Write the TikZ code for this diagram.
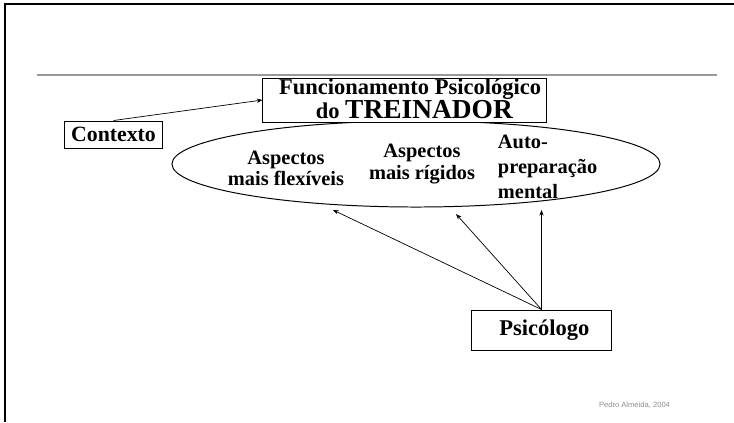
\documentclass[tikz,border=0pt]{standalone}
\usepackage{fontspec}
\setmainfont{Liberation Serif}
\newfontfamily\footfont{Liberation Sans}
\usetikzlibrary{arrows.meta, shapes.geometric}
\definecolor{rulegray}{HTML}{999999}
\definecolor{footgray}{HTML}{8C8C8C}

\begin{document}
\begin{tikzpicture}[
  x=0.025cm, y=-0.025cm,
  >={Stealth[length=4pt, width=3pt]},
  framebox/.style={draw, line width=0.7pt, inner sep=0pt, align=center},
  inner/.style={font=\fontsize{14.5}{15}\selectfont\bfseries, align=center},
  link/.style={->, line width=0.5pt},
]

\useasboundingbox (0,0) rectangle (734,422);

% Page frame and rule
\draw[line width=1pt] (5,422) -- (5,4) -- (734,4);
\draw[rulegray, line width=1.5pt] (37,75) -- (717,75);

% === Central ellipse ===
\node[ellipse, draw, line width=0.7pt, inner sep=0pt,
  minimum width=12.2cm, minimum height=2.15cm] (ell) at (416,164) {};

% === Boxes ===
\node[framebox, minimum width=7.075cm, minimum height=1.1cm, fill=white,
  text depth=2pt, font=\fontsize{16}{15.6}\selectfont\bfseries] (func) at (404.5,100)
  {\hspace{8pt}Funcionamento Psicológico\\
   \hspace{14pt}do {\fontsize{19.5}{15.6}\selectfont TREINADOR}};
\node[framebox, minimum width=2.425cm, minimum height=0.675cm,
  font=\fontsize{15.5}{17}\selectfont\bfseries] (ctx) at (113.5,134.5) {Contexto};
\node[framebox, minimum width=3.475cm, minimum height=1.0cm,
  font=\fontsize{16}{18}\selectfont\bfseries] (psi) at (541.5,330) {\hspace{4pt}Psicólogo};

% Text inside the ellipse
\node[inner] (flex) at (286,168) {Aspectos\\mais flexíveis};
\node[inner] (rig) at (422,164) {Aspectos\\mais rígidos};
\node[inner, font=\fontsize{14.5}{18}\selectfont\bfseries, align=left, anchor=west] (auto) at (493,167)
  {Auto-\\preparação\\mental};

% === Arrows ===
\coordinate (t1) at (333,210);
\coordinate (t2) at (456,214);
\coordinate (t3) at (541.5,210);

\draw[link] (ctx.north) -- (func.west);
\foreach \t in {t1,t2,t3} {
  \draw[link] (psi.north) -- (\t);
}

% Footer
\node[font=\footfont\fontsize{5.4}{6}\selectfont, text=footgray] (foot) at (634.5,405)
  {Pedro Almeida, 2004};

\end{tikzpicture}
\end{document}
